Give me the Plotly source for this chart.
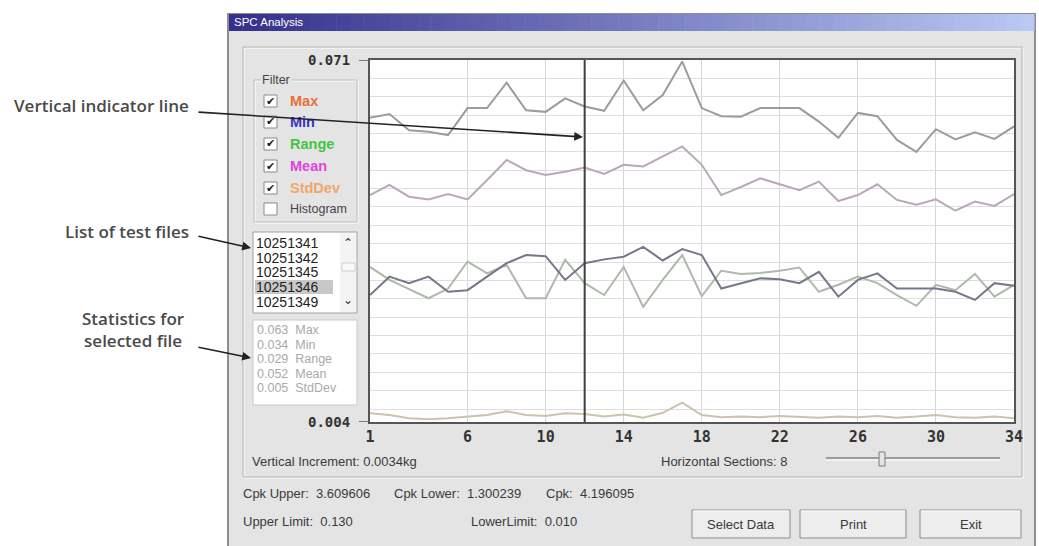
import plotly.graph_objects as go

W, H = 1039, 546

# --- data -------------------------------------------------------------------
SAMPLES = list(range(1, 35))
MAX_VALUES = [0.0603, 0.0610, 0.0580, 0.0577, 0.0571, 0.0621, 0.0621, 0.0668, 0.0617, 0.0614,
              0.0639, 0.0624, 0.0616, 0.0672, 0.0617, 0.0645, 0.0707, 0.0621, 0.0606, 0.0605,
              0.0621, 0.0621, 0.0621, 0.0596, 0.0566, 0.0612, 0.0606, 0.0562, 0.0540, 0.0582,
              0.0563, 0.0576, 0.0564, 0.0587]
MEAN_VALUES = [0.0460, 0.0479, 0.0457, 0.0452, 0.0462, 0.0452, 0.0488, 0.0525, 0.0506, 0.0497,
               0.0503, 0.0511, 0.0499, 0.0516, 0.0513, 0.0531, 0.0550, 0.0516, 0.0460, 0.0475,
               0.0491, 0.0480, 0.0469, 0.0485, 0.0449, 0.0460, 0.0480, 0.0451, 0.0442, 0.0452,
               0.0431, 0.0448, 0.0440, 0.0462]
MIN_VALUES = [0.0275, 0.0309, 0.0297, 0.0309, 0.0281, 0.0284, 0.0309, 0.0334, 0.0349, 0.0347,
              0.0303, 0.0334, 0.0341, 0.0346, 0.0364, 0.0339, 0.0360, 0.0349, 0.0287, 0.0297,
              0.0306, 0.0304, 0.0297, 0.0318, 0.0272, 0.0303, 0.0315, 0.0287, 0.0287, 0.0287,
              0.0281, 0.0266, 0.0297, 0.0292]
RANGE_VALUES = [0.0327, 0.0303, 0.0286, 0.0269, 0.0287, 0.0337, 0.0315, 0.0331, 0.0269, 0.0269,
                0.0340, 0.0297, 0.0275, 0.0327, 0.0253, 0.0303, 0.0349, 0.0273, 0.0320, 0.0314,
                0.0316, 0.0320, 0.0326, 0.0281, 0.0294, 0.0309, 0.0297, 0.0275, 0.0255, 0.0294,
                0.0284, 0.0314, 0.0272, 0.0294]
STDDEV_VALUES = [0.0056, 0.0053, 0.0047, 0.0045, 0.0047, 0.0050, 0.0053, 0.0060, 0.0053, 0.0051,
                 0.0056, 0.0055, 0.0050, 0.0054, 0.0048, 0.0057, 0.0076, 0.0053, 0.0049, 0.0050,
                 0.0049, 0.0051, 0.0050, 0.0048, 0.0050, 0.0049, 0.0051, 0.0048, 0.0050, 0.0053,
                 0.0049, 0.0048, 0.0050, 0.0047]

X_TICKS = [1, 6, 10, 14, 18, 22, 26, 30, 34]
Y_TOP = 0.071
Y_BOTTOM = 0.004
VERTICAL_INCREMENT = 0.0034
INDICATOR_X = 12

FILTER_NAMES = ['Max', 'Min', 'Range', 'Mean', 'StdDev']
FILTER_COLORS = ['#e8703c', '#3434c4', '#44c444', '#e044e0', '#f0a86a']
TEST_FILES = ['10251341', '10251342', '10251345', '10251346', '10251349']
SELECTED_FILE = '10251346'
STAT_NAMES = ['Max', 'Min', 'Range', 'Mean', 'StdDev']
STAT_VALUES = [0.063, 0.034, 0.029, 0.052, 0.005]
CPK_UPPER, CPK_LOWER, CPK = 3.609606, 1.300239, 4.196095
UPPER_LIMIT, LOWER_LIMIT = 0.130, 0.010
HORIZONTAL_SECTIONS = 8

SERIES = [
    ('StdDev', STDDEV_VALUES, '#ccc2ae'),
    ('Range', RANGE_VALUES, '#adbaab'),
    ('Min', MIN_VALUES, '#77778a'),
    ('Mean', MEAN_VALUES, '#baa8ba'),
    ('Max', MAX_VALUES, '#9c9c9c'),
]

UI_FONT = 'Liberation Sans'


def px(x):
    return x / W


def py(y):
    return 1 - y / H


shapes = []
annotations = []


def rect(x0, y0, x1, y1, fill=None, line='#a0a0a0', width=1):
    shapes.append(dict(type='rect', xref='paper', yref='paper', layer='below',
                       x0=px(x0), x1=px(x1), y0=py(y1), y1=py(y0),
                       fillcolor=fill or 'rgba(0,0,0,0)',
                       line=dict(color=line, width=width)))


def hline(x0, x1, y, color, width=1):
    shapes.append(dict(type='line', xref='paper', yref='paper', layer='below',
                       x0=px(x0), x1=px(x1), y0=py(y), y1=py(y),
                       line=dict(color=color, width=width)))


def text(x, y, s, size=13, color='#3a3a3a', anchor='left', family=UI_FONT,
         weight='normal', bg=None, align='left'):
    annotations.append(dict(xref='paper', yref='paper', x=px(x), y=py(y), text=s,
                            showarrow=False, xanchor=anchor, yanchor='middle',
                            align=align, bgcolor=bg,
                            font=dict(family=family, size=size, color=color,
                                      weight=weight)))


def arrow(tail, tip):
    annotations.append(dict(xref='paper', yref='paper', x=px(tip[0]), y=py(tip[1]),
                            ax=tail[0] - tip[0], ay=tail[1] - tip[1], text='',
                            showarrow=True, arrowhead=2, arrowsize=1.1,
                            arrowwidth=1.6, arrowcolor='#222222'))


# --- window chrome -----------------------------------------------------------
rect(228, 14, 1035, 552, fill='#e4e4e4', line='#8e8e8e', width=2)
steps = 60
for i in range(steps):
    t = i / (steps - 1)
    r = int(52 + (186 - 52) * t)
    g = int(48 + (200 - 48) * t)
    b = int(140 + (244 - 140) * t)
    x0 = 229 + (1034 - 229) * i / steps
    x1 = 229 + (1034 - 229) * (i + 1) / steps + 0.5
    rect(x0, 14, x1, 31, fill='rgb(%d,%d,%d)' % (r, g, b), line='rgba(0,0,0,0)', width=0)
text(232, 22, 'SPC Analysis', size=11.5, color='white')

# group box around the chart
rect(244, 48, 1023, 478, line='#ffffff')
rect(243, 47, 1022, 477, line='#b4b4b4')
# plot area background
rect(370, 60, 1014, 422, fill='white', line='rgba(0,0,0,0)', width=0)

# filter group
rect(255, 81, 358, 223, line='#ffffff')
rect(254, 80, 357, 222, line='#bdbdbd')
text(260, 80, 'Filter', size=12.5, color='#444444', bg='#e4e4e4')
rows = [101, 122, 144, 166, 188]
for name, color, yy in zip(FILTER_NAMES, FILTER_COLORS, rows):
    rect(264, yy - 6, 277, yy + 6, fill='white', line='#8a8a8a')
    text(270.5, yy, '✔', size=11, color='#1e1e1e', anchor='center', family='DejaVu Sans')
    text(288, yy, name, size=14.5, color=color, weight='bold')
rect(264, 203, 277, 215, fill='white', line='#8a8a8a')
text(288, 209, 'Histogram', size=12.5, color='#444444')

# test file list
rect(253, 232, 357, 313, fill='white', line='#a0a0a0')
rect(340, 233, 356, 312, fill='#f4f4f4', line='rgba(0,0,0,0)', width=0)
rect(342, 263, 355, 271, fill='#fafafa', line='#cfcfcf')
text(348, 243, '⌃', size=12, color='#333333', anchor='center', family='DejaVu Sans')
text(348, 300, '⌄', size=12, color='#333333', anchor='center', family='DejaVu Sans')
for i, name in enumerate(TEST_FILES):
    yy = 243 + i * 14.7
    if name == SELECTED_FILE:
        rect(255, yy - 7, 333, yy + 7, fill='#c8c8c8', line='rgba(0,0,0,0)', width=0)
    text(254, yy, name, size=14, color='#222222')

# statistics for selected file
rect(253, 320, 357, 405, fill='white', line='#c8c8c8')
for i, (name, val) in enumerate(zip(STAT_NAMES, STAT_VALUES)):
    text(255, 330 + i * 14.5, '%.3f  %s' % (val, name), size=12.5, color='#a9a9a9')

# y axis end labels and ticks
for val in (Y_TOP, Y_BOTTOM):
    annotations.append(dict(xref='paper', yref='y', x=px(352), y=val, text='%.3f' % val,
                            showarrow=False, xanchor='right', yanchor='middle',
                            font=dict(family='DejaVu Sans Mono', size=14, color='#333333',
                                      weight='bold')))
    shapes.append(dict(type='line', xref='paper', yref='y', x0=px(359), x1=px(370),
                       y0=val, y1=val, line=dict(color='#555555', width=1.5)))

# controls below the chart
text(250, 461, 'Vertical Increment: %.4fkg' % VERTICAL_INCREMENT)
text(789, 461, 'Horizontal Sections: %d' % HORIZONTAL_SECTIONS, anchor='right')
hline(826, 1000, 458, '#9c9c9c', 2)
hline(826, 1000, 460, '#ffffff', 1)
rect(879, 452, 885, 466, fill='#e4e4e4', line='#7a7a7a')

text(241, 493, 'Cpk Upper:  %.6f' % CPK_UPPER)
text(392, 493, 'Cpk Lower:  %.6f' % CPK_LOWER)
text(544, 493, 'Cpk:  %.6f' % CPK)
text(241, 521, 'Upper Limit:  %.3f' % UPPER_LIMIT)
text(469, 521, 'LowerLimit:  %.3f' % LOWER_LIMIT)

for label, x0, x1 in (('Select Data', 692, 790), ('Print', 800, 906), ('Exit', 920, 1021)):
    rect(x0, 510, x1, 538, fill='#ededed', line='#8c8c8c')
    hline(x0 + 1, x1 - 1, 511, '#ffffff')
    text((x0 + x1) / 2, 524, label, anchor='center')

# --- callouts on the left ----------------------------------------------------
callout_font = dict(family='Open Sans', size=17, color='#4a4a4a', weight=600)
text(191, 106, 'Vertical indicator line', anchor='right', **callout_font)
text(191, 231, 'List of test files', anchor='right', **callout_font)
text(187, 329, 'Statistics for<br>selected file', anchor='right', align='center',
     **callout_font)
arrow((197, 112), (583, 137))
arrow((197, 236), (251, 248))
arrow((197, 347), (251, 358))

# indicator line
shapes.append(dict(type='line', xref='x', yref='y', x0=INDICATOR_X, x1=INDICATOR_X,
                   y0=Y_BOTTOM, y1=Y_TOP, line=dict(color='#404040', width=2)))

# --- chart ------------------------------------------------------------------
fig = go.Figure()
for name, values, color in SERIES:
    fig.add_trace(go.Scatter(x=SAMPLES, y=values, mode='lines', name=name,
                             line=dict(color=color, width=2), hoverinfo='skip'))

fig.update_layout(
    width=W, height=H,
    margin=dict(l=0, r=0, t=0, b=0),
    paper_bgcolor='white',
    plot_bgcolor='white',
    showlegend=False,
    shapes=shapes,
    annotations=annotations,
    xaxis=dict(
        domain=[px(370), px(1014)], range=[1, 34], tickvals=X_TICKS,
        showgrid=True, gridcolor='#d6d6d6', gridwidth=1, zeroline=False,
        showline=True, linecolor='#555555', linewidth=2, mirror=True,
        ticks='', automargin=False, ticklabelstandoff=0,
        tickfont=dict(family='DejaVu Sans Mono', size=15, color='#333333', weight='bold'),
    ),
    yaxis=dict(
        domain=[py(422), py(60)], range=[Y_BOTTOM, Y_TOP],
        tickmode='linear', tick0=Y_TOP, dtick=VERTICAL_INCREMENT,
        showticklabels=False, showgrid=True, gridcolor='#dedede', gridwidth=1,
        zeroline=False, showline=True, linecolor='#555555', linewidth=2, mirror=True,
        ticks='', automargin=False,
    ),
)

# the page's default body margin would shift the figure by 8px
fig.write_html('out.html', config={'displayModeBar': False},
               post_script="document.body.style.margin = '0';")
